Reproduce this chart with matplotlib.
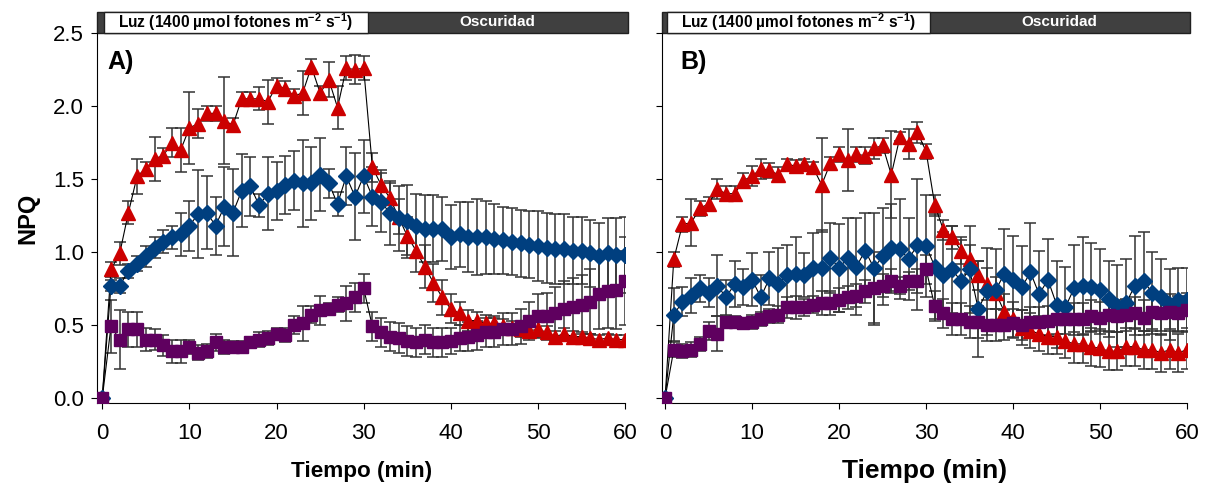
import numpy as np
import matplotlib.pyplot as plt
from matplotlib.patches import Rectangle
from matplotlib.transforms import blended_transform_factory

plt.rcParams['font.family'] = ['Liberation Sans', 'DejaVu Sans']
plt.rcParams['mathtext.fontset'] = 'custom'
plt.rcParams['mathtext.rm'] = 'Liberation Sans'
plt.rcParams['mathtext.bf'] = 'Liberation Sans:bold'
plt.rcParams['mathtext.default'] = 'bf'

tiempo = np.arange(0, 61)

# Panel A
a_rojo = [0, 0.88, 0.99, 1.27, 1.52, 1.57, 1.64, 1.66, 1.75, 1.70, 1.85,
          1.88, 1.95, 1.95, 1.90, 1.87, 2.05, 2.05, 2.05, 2.03, 2.14,
          2.12, 2.07, 2.09, 2.27, 2.09, 2.18, 1.99, 2.26, 2.25, 2.26,
          1.58, 1.46, 1.37, 1.24, 1.11, 1.01, 0.90, 0.79, 0.69, 0.61,
          0.58, 0.53, 0.53, 0.51, 0.51, 0.49, 0.48, 0.47, 0.46, 0.47,
          0.45, 0.42, 0.44, 0.42, 0.42, 0.41, 0.40, 0.41, 0.40, 0.40]
a_rojo_err = [0, 0.05, 0.08, 0.08, 0.12, 0.05, 0.15, 0.05, 0.10, 0.15, 0.25,
              0.10, 0.05, 0.05, 0.30, 0.05, 0.05, 0.05, 0.08, 0.15, 0.05,
              0.05, 0.05, 0.15, 0.05, 0.05, 0.12, 0.15, 0.08, 0.10, 0.08,
              0.10, 0.10, 0.10, 0.12, 0.13, 0.15, 0.15, 0.13, 0.12, 0.10,
              0.08, 0.07, 0.06, 0.06, 0.05, 0.05, 0.05, 0.05, 0.05, 0.05,
              0.04, 0.04, 0.04, 0.04, 0.03, 0.03, 0.03, 0.03, 0.03, 0.03]
a_azul = [0, 0.77, 0.77, 0.87, 0.92, 0.97, 1.03, 1.07, 1.10, 1.12, 1.18,
          1.26, 1.27, 1.18, 1.31, 1.27, 1.42, 1.45, 1.32, 1.40, 1.42,
          1.46, 1.49, 1.47, 1.47, 1.53, 1.47, 1.33, 1.52, 1.38, 1.52,
          1.38, 1.34, 1.27, 1.23, 1.21, 1.18, 1.16, 1.16, 1.16, 1.10,
          1.12, 1.10, 1.10, 1.10, 1.09, 1.08, 1.07, 1.06, 1.05, 1.04,
          1.03, 1.02, 1.02, 1.01, 1.01, 0.99, 0.97, 0.99, 0.98, 0.98]
a_azul_err = [0, 0.04, 0.05, 0.05, 0.05, 0.07, 0.07, 0.08, 0.08, 0.15, 0.17,
              0.30, 0.25, 0.20, 0.27, 0.30, 0.25, 0.20, 0.08, 0.25, 0.20,
              0.20, 0.20, 0.30, 0.25, 0.25, 0.10, 0.08, 0.20, 0.30, 0.25,
              0.20, 0.20, 0.22, 0.22, 0.25, 0.22, 0.23, 0.23, 0.22, 0.22,
              0.22, 0.24, 0.26, 0.25, 0.24, 0.23, 0.23, 0.23, 0.23, 0.24,
              0.24, 0.24, 0.24, 0.23, 0.23, 0.23, 0.23, 0.24, 0.25, 0.26]
a_morado = [0, 0.49, 0.40, 0.47, 0.47, 0.40, 0.40, 0.36, 0.32, 0.32, 0.35,
            0.31, 0.32, 0.38, 0.35, 0.35, 0.35, 0.38, 0.40, 0.41, 0.44,
            0.43, 0.50, 0.51, 0.57, 0.60, 0.61, 0.64, 0.65, 0.69, 0.75,
            0.49, 0.45, 0.42, 0.41, 0.39, 0.38, 0.40, 0.38, 0.38, 0.39,
            0.41, 0.42, 0.43, 0.45, 0.45, 0.47, 0.47, 0.49, 0.53, 0.56,
            0.56, 0.58, 0.61, 0.62, 0.64, 0.66, 0.71, 0.73, 0.74, 0.80]
a_morado_err = [0, 0.18, 0.20, 0.12, 0.12, 0.08, 0.07, 0.07, 0.08, 0.08, 0.05,
                0.05, 0.05, 0.06, 0.05, 0.04, 0.04, 0.04, 0.05, 0.05, 0.04,
                0.05, 0.06, 0.12, 0.06, 0.10, 0.04, 0.05, 0.12, 0.10, 0.10,
                0.10, 0.10, 0.10, 0.10, 0.10, 0.10, 0.10, 0.10, 0.10, 0.09,
                0.09, 0.10, 0.10, 0.10, 0.10, 0.11, 0.11, 0.12, 0.13, 0.15,
                0.16, 0.18, 0.19, 0.20, 0.20, 0.22, 0.24, 0.25, 0.27, 0.30]

# Panel B
b_rojo = [0, 0.95, 1.19, 1.20, 1.30, 1.33, 1.43, 1.40, 1.40, 1.49, 1.52,
          1.57, 1.56, 1.53, 1.60, 1.59, 1.60, 1.58, 1.46, 1.61, 1.67,
          1.63, 1.67, 1.66, 1.71, 1.73, 1.53, 1.79, 1.74, 1.82, 1.69,
          1.32, 1.15, 1.10, 1.01, 0.95, 0.84, 0.78, 0.72, 0.59, 0.54,
          0.48, 0.46, 0.44, 0.42, 0.42, 0.39, 0.37, 0.37, 0.35, 0.34,
          0.32, 0.32, 0.35, 0.35, 0.33, 0.33, 0.31, 0.33, 0.31, 0.33]
b_rojo_err = [0, 0.05, 0.05, 0.16, 0.05, 0.05, 0.07, 0.05, 0.05, 0.05, 0.07,
              0.07, 0.05, 0.05, 0.04, 0.04, 0.04, 0.04, 0.32, 0.04, 0.05,
              0.21, 0.05, 0.06, 0.07, 0.05, 0.30, 0.03, 0.10, 0.07, 0.05,
              0.07, 0.07, 0.08, 0.09, 0.10, 0.10, 0.11, 0.11, 0.12, 0.12,
              0.12, 0.12, 0.12, 0.12, 0.12, 0.12, 0.13, 0.13, 0.13, 0.13,
              0.13, 0.13, 0.13, 0.13, 0.13, 0.13, 0.13, 0.13, 0.13, 0.13]
b_azul = [0, 0.57, 0.66, 0.70, 0.75, 0.72, 0.77, 0.69, 0.78, 0.76, 0.81,
          0.69, 0.82, 0.78, 0.84, 0.85, 0.84, 0.89, 0.89, 0.96, 0.89,
          0.96, 0.90, 1.01, 0.89, 0.97, 1.03, 1.02, 0.95, 1.05, 1.04,
          0.90, 0.84, 0.88, 0.80, 0.88, 0.61, 0.73, 0.74, 0.85, 0.81,
          0.76, 0.86, 0.71, 0.81, 0.64, 0.62, 0.75, 0.77, 0.76, 0.74,
          0.68, 0.63, 0.65, 0.77, 0.80, 0.72, 0.69, 0.64, 0.67, 0.67]
b_azul_err = [0, 0.18, 0.10, 0.12, 0.09, 0.10, 0.21, 0.12, 0.16, 0.12, 0.18,
              0.15, 0.18, 0.25, 0.21, 0.25, 0.15, 0.24, 0.26, 0.24, 0.30,
              0.27, 0.33, 0.26, 0.38, 0.33, 0.30, 0.34, 0.28, 0.45, 0.35,
              0.36, 0.30, 0.30, 0.28, 0.30, 0.33, 0.30, 0.28, 0.31, 0.30,
              0.28, 0.34, 0.30, 0.28, 0.30, 0.28, 0.30, 0.33, 0.30, 0.28,
              0.26, 0.28, 0.30, 0.34, 0.34, 0.28, 0.26, 0.24, 0.22, 0.22]
b_morado = [0, 0.33, 0.32, 0.33, 0.37, 0.46, 0.44, 0.52, 0.52, 0.51, 0.52,
            0.54, 0.56, 0.57, 0.62, 0.62, 0.62, 0.64, 0.65, 0.65, 0.67,
            0.69, 0.70, 0.73, 0.75, 0.77, 0.80, 0.77, 0.80, 0.80, 0.88,
            0.63, 0.58, 0.54, 0.54, 0.52, 0.52, 0.50, 0.50, 0.50, 0.51,
            0.50, 0.52, 0.52, 0.53, 0.54, 0.54, 0.54, 0.54, 0.56, 0.55,
            0.57, 0.56, 0.57, 0.58, 0.55, 0.59, 0.58, 0.59, 0.58, 0.60]
b_morado_err = [0, 0.05, 0.05, 0.05, 0.05, 0.06, 0.12, 0.04, 0.04, 0.04, 0.05,
                0.05, 0.05, 0.06, 0.07, 0.08, 0.06, 0.06, 0.08, 0.08, 0.08,
                0.08, 0.08, 0.08, 0.25, 0.08, 0.08, 0.06, 0.06, 0.08, 0.10,
                0.10, 0.10, 0.11, 0.11, 0.11, 0.11, 0.11, 0.11, 0.10, 0.10,
                0.10, 0.10, 0.10, 0.10, 0.10, 0.10, 0.11, 0.11, 0.11, 0.11,
                0.11, 0.11, 0.11, 0.11, 0.12, 0.12, 0.12, 0.12, 0.12, 0.12]

ROJO, AZUL, MORADO = '#CC0000', '#003F7F', '#5F005F'


def dibujar(ax, series):
    for y, err, color, marker, ms in series:
        ax.errorbar(tiempo, y, yerr=err, fmt='none', ecolor='#333333',
                    elinewidth=1.1, capsize=4.5, capthick=1.1, zorder=2)
        ax.plot(tiempo, y, color='black', lw=0.8, zorder=3)
        ax.plot(tiempo, y, ls='none', marker=marker, ms=ms, color=color,
                markeredgecolor=color, zorder=4)


def barra_luz(ax, xmin):
    trans = blended_transform_factory(ax.transData, ax.transAxes)
    ax.add_patch(Rectangle((xmin, 1.0), 60.35 - xmin, 0.057, transform=trans,
                           facecolor='#404040', edgecolor='#202020', lw=1,
                           clip_on=False))
    ax.add_patch(Rectangle((0.2, 1.0), 30.3, 0.057, transform=trans,
                           facecolor='white', edgecolor='#202020', lw=1,
                           clip_on=False))
    ax.text(15.3, 1.029, 'Luz (1400 µmol fotones m$^{-2}$ s$^{-1}$)',
            transform=trans, ha='center', va='center', fontsize=11.2,
            fontweight='bold')
    ax.text(45.3, 1.029, 'Oscuridad', transform=trans, ha='center',
            va='center', fontsize=11, fontweight='bold', color='white')


fig = plt.figure(figsize=(12.07, 4.86), dpi=100)
ax1 = fig.add_axes([0.0804, 0.1708, 0.4375, 0.761])
ax2 = fig.add_axes([0.5485, 0.1708, 0.435, 0.761])

dibujar(ax1, [(a_rojo, a_rojo_err, ROJO, '^', 10),
              (a_azul, a_azul_err, AZUL, 'D', 8.5),
              (a_morado, a_morado_err, MORADO, 's', 8.5)])
dibujar(ax2, [(b_rojo, b_rojo_err, ROJO, '^', 10),
              (b_azul, b_azul_err, AZUL, 'D', 8.5),
              (b_morado, b_morado_err, MORADO, 's', 8.5)])

for ax, xmin in [(ax1, -0.6), (ax2, -0.35)]:
    ax.set_xlim(xmin, 60)
    ax.set_ylim(-0.035, 2.5)
    ax.set_xticks(range(0, 61, 10))
    ax.set_yticks(np.arange(0, 2.51, 0.5))
    ax.spines['top'].set_visible(False)
    ax.spines['right'].set_visible(False)
    ax.tick_params(direction='out', length=4.5, labelsize=16)
    ax.tick_params(axis='x', pad=10)
    ax.tick_params(axis='y', pad=5)
    barra_luz(ax, xmin)

ax1.set_yticklabels(['0.0', '0.5', '1.0', '1.5', '2.0', '2.5'])
ax2.set_yticklabels([])
ax1.set_ylabel('NPQ', fontsize=17, fontweight='bold', labelpad=10)
ax1.set_xlabel('Tiempo (min)', fontsize=16.2, fontweight='bold', labelpad=12.5)
ax2.set_xlabel('Tiempo (min)', fontsize=19, fontweight='bold', labelpad=10.5)
ax1.text(0.02, 0.955, 'A)', transform=ax1.transAxes, fontsize=18,
         fontweight='bold', va='top')
ax2.text(0.035, 0.955, 'B)', transform=ax2.transAxes, fontsize=18,
         fontweight='bold', va='top')

fig.savefig('out.png', dpi=100)
